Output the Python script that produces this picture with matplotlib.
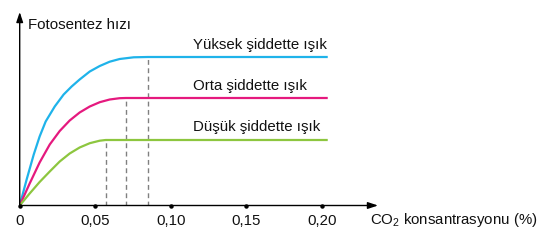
import matplotlib
matplotlib.use("Agg")
import matplotlib.pyplot as plt

plt.rcParams['font.family'] = ['Liberation Sans', 'DejaVu Sans']
plt.rcParams['mathtext.fontset'] = 'custom'
plt.rcParams['mathtext.rm'] = 'Liberation Sans'
plt.rcParams['mathtext.it'] = 'Liberation Sans'

# Data (x: CO2 %, y: relative photosynthesis rate)
high_x = [0, 0.0046, 0.0093, 0.0132, 0.0172, 0.0232, 0.0291, 0.0344, 0.0397, 0.0464,
          0.0530, 0.0596, 0.0662, 0.0755, 0.0848, 0.204]
high_y = [0, 26, 51, 69, 84, 99, 111, 119, 126, 134,
          139.5, 143.8, 146.5, 148.2, 148.5, 148.5]
mid_x = [0, 0.0066, 0.0132, 0.0199, 0.0265, 0.0331, 0.0397, 0.0464, 0.0530, 0.0596,
         0.0662, 0.0704, 0.204]
mid_y = [0, 22, 43, 61, 74.5, 85, 93, 99, 103.3, 106,
         107.3, 107.5, 107.5]
low_x = [0, 0.0066, 0.0132, 0.0199, 0.0265, 0.0331, 0.0397, 0.0464, 0.0530, 0.0570, 0.204]
low_y = [0, 12, 23.5, 34, 44, 52, 58, 62.3, 64.8, 65.5, 65.5]
sat_x = [0.0570, 0.0704, 0.0848]
sat_y = [65.5, 107.5, 148.5]
labels = ["Yüksek şiddette ışık", "Orta şiddette ışık", "Düşük şiddette ışık"]
label_y = [156, 115, 74]
xticks = [0, 0.05, 0.10, 0.15, 0.20]
xticklabels = ["0", "0,05", "0,10", "0,15", "0,20"]

W, H = 545, 245
x0, y0 = 19.7, 205.5
FS = 10.8
fig = plt.figure(figsize=(W/100, H/100), dpi=100)
ax = fig.add_axes([x0/W, (H-y0)/H, (378-x0)/W, (y0-12)/H])
xmax = (378 - x0) * 0.05 / 75.5
ax.set_xlim(0, xmax)
ax.set_ylim(0, y0 - 12)
ax.axis('off')

# dashed lines
for xv, yv in zip(sat_x, sat_y):
    ax.plot([xv, xv], [0, yv], color='#808080', lw=1.0, ls=(0, (3.5, 2.5)), zorder=1)

kw = dict(lw=1.6, solid_capstyle='butt', solid_joinstyle='round', zorder=3)
ax.plot(high_x, high_y, color='#1FB3EA', **kw)
ax.plot(mid_x, mid_y, color='#E5197E', **kw)
ax.plot(low_x, low_y, color='#8DC63F', **kw)

# axes with arrows
ap = dict(arrowstyle='-|>,head_length=0.6,head_width=0.2', color='black', lw=1.0,
          shrinkA=0, shrinkB=0)
ax.annotate('', xy=(xmax, 0), xytext=(0, 0), arrowprops=ap, annotation_clip=False)
ax.annotate('', xy=(0, y0 - 12), xytext=(0, 0), arrowprops=ap, annotation_clip=False)

# tick dots
ax.plot(xticks, [0]*len(xticks), 'o', color='black', ms=2.2, zorder=5, clip_on=False)
for xv, lab in zip(xticks, xticklabels):
    ax.text(xv, -19.5, lab, ha='center', va='baseline', fontsize=FS, color='#111111')

for lab, yv in zip(labels, label_y):
    ax.text((193 - x0) * 0.05 / 75.5, yv, lab, ha='left', va='baseline', fontsize=FS,
            color='#111111')

ax.text((28 - x0) * 0.05 / 75.5, y0 - 29.5, "Fotosentez hızı", ha='left', va='baseline',
        fontsize=FS, color='#111111')
fig.text(370/W, 1-224/H, r"CO$_2$ konsantrasyonu (%)", ha='left', va='baseline',
         fontsize=FS, color='#111111')

fig.savefig("out.png", dpi=100)
